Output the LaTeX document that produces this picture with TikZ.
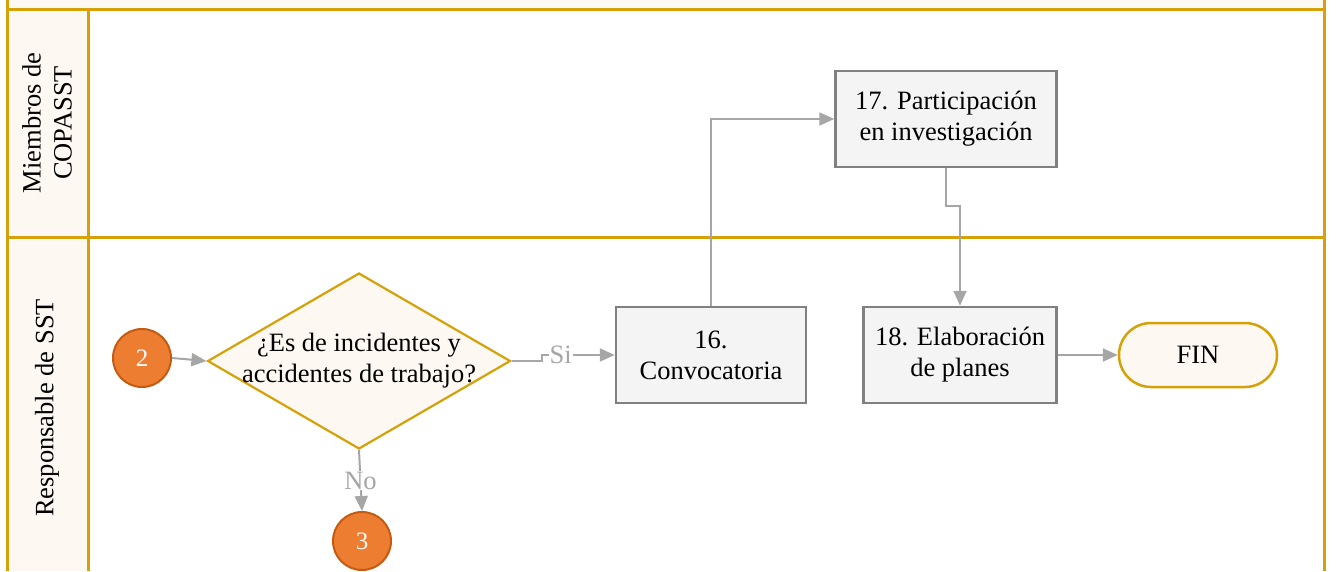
\documentclass[tikz,border=0pt]{standalone}
\usepackage{fontspec}
\setmainfont{Liberation Serif}
\usetikzlibrary{shapes.geometric,arrows.meta}
\definecolor{oro}{RGB}{214,161,8}
\definecolor{crema}{RGB}{254,248,242}
\definecolor{grisfondo}{RGB}{244,244,244}
\definecolor{grisborde}{RGB}{128,128,128}
\definecolor{grisflecha}{RGB}{166,166,166}
\definecolor{naranja}{RGB}{237,125,49}
\definecolor{naranjaborde}{RGB}{197,90,17}
\newcommand{\textoFlujo}{\fontsize{26.5}{31}\selectfont}
\newcommand{\textoConector}{\fontsize{25}{28}\selectfont}

\begin{document}
\begin{tikzpicture}[
    x=1pt, y=-1pt,
    % Estilos de carriles
    lane line/.style={line width=3pt, oro},
    lane label/.style={rotate=90, align=center, font=\textoFlujo},
    % Estilos de nodos
    task node/.style={rectangle, draw=grisborde, fill=grisfondo, line width=2.5pt, minimum height=96pt, align=center, font=\textoFlujo},
    decision node/.style={diamond, draw=oro, fill=crema, line width=2.2pt, minimum width=303pt, minimum height=176pt, inner sep=0pt},
    link node/.style={circle, draw=naranjaborde, fill=naranja, line width=2pt, minimum size=58pt, inner sep=0pt, text=white, font=\textoConector},
    end node/.style={rectangle, rounded corners=32pt, draw=oro, fill=crema, line width=2.5pt, minimum width=158pt, minimum height=64pt, font=\textoFlujo},
    % Estilos de aristas
    flow edge/.style={draw=grisflecha, line width=2pt, -{Triangle[length=15pt, width=13pt]}},
    edge label/.style={fill=white, text=grisflecha, inner sep=1pt, font=\textoFlujo}
]
\useasboundingbox (0,0) rectangle (1340,571);

% 1. Fondo de cabecera y columna de carriles
\fill[crema] (7,0) rectangle (1324,9);
\fill[crema] (7,9) rectangle (88,571);

% 2. Lineas de los carriles
\draw[lane line] (7,0) -- (7,571);
\draw[lane line] (1324,0) -- (1324,571);
\draw[lane line] (88,9) -- (88,571);
\draw[lane line] (7,9) -- (1324,9);
\draw[lane line] (7,237) -- (1324,237);

% 3. Nombres de los carriles
\node[lane label] (lane1) at (47,123) {Miembros de\\COPASST};
\node[lane label] (lane2) at (47,408) {Responsable de SST};

% 4. Nodos del flujo
\node[link node] (c2) at (142,358) {2};
\node[decision node, label={[align=center, font=\textoFlujo]center:¿Es de incidentes y\\accidentes de trabajo?}] (dia) at (359,361) {};
\node[link node] (c3) at (362,541) {3};
\node[task node, minimum width=190pt] (t16) at (711,355) {16.\\Convocatoria};
\node[task node, minimum width=221pt] (t17) at (946,119) {17. Participación\\en investigación};
\node[task node, minimum width=193pt] (t18) at (960,355) {18. Elaboración\\de planes};
\node[end node] (fin) at (1198,355) {FIN};

% 5. Conectores
\draw[flow edge] (c2.east) -- (dia.west);
\draw[flow edge] (dia.east) -- ++(30,0) |- node[edge label, pos=0.63] {Si} (t16.west);
\draw[flow edge] (dia.south) -- node[edge label] {No} (c3.north);
\draw[flow edge] (t16.north) |- (t17.west);
\draw[flow edge] (t17.south) -- ++(0,38) -| (t18.north);
\draw[flow edge] (t18.east) -- (fin.west);

\end{tikzpicture}
\end{document}
